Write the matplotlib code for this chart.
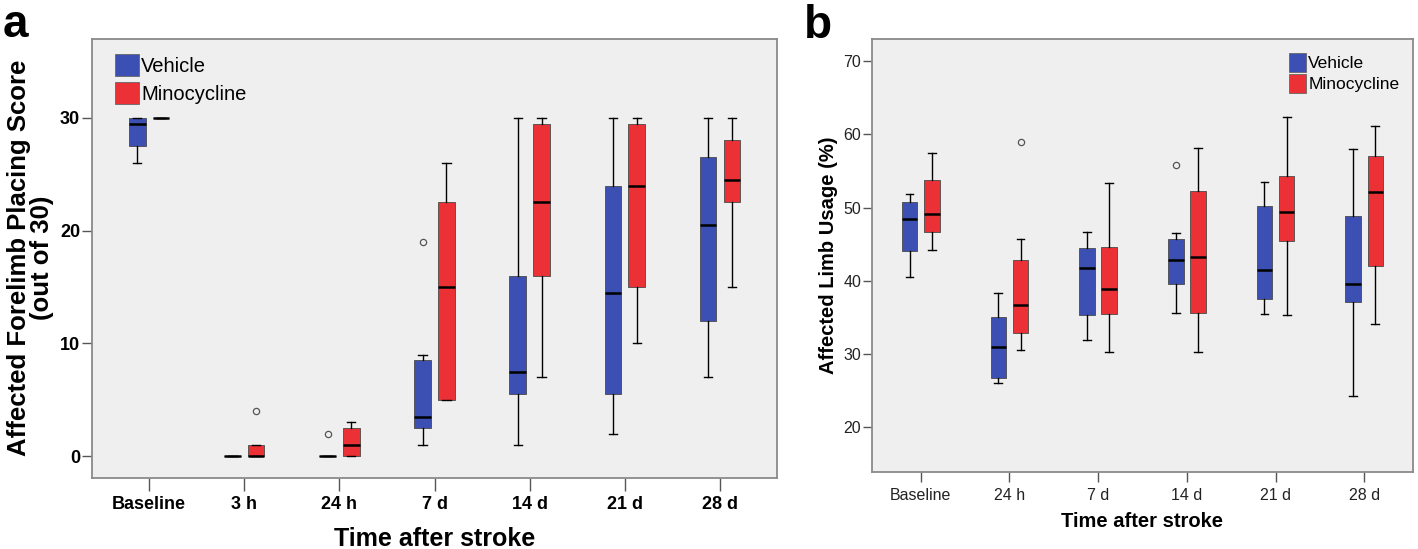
import matplotlib
matplotlib.use("Agg")
import matplotlib.pyplot as plt
import matplotlib.patches as mpatches
import numpy as np

plt.rcParams['font.family'] = ['Liberation Sans', 'DejaVu Sans']

# ---- panel a: forelimb placing score (box stats) ----
times_a = ["Baseline", "3 h", "24 h", "7 d", "14 d", "21 d", "28 d"]

veh_a_lo = [26, 0, 0, 1, 1, 2, 7]
veh_a_q1 = [27.5, 0, 0, 2.5, 5.5, 5.5, 12]
veh_a_med = [29.5, 0, 0, 3.5, 7.5, 14.5, 20.5]
veh_a_q3 = [30, 0, 0, 8.5, 16, 24, 26.5]
veh_a_hi = [30, 0, 0, 9, 30, 30, 30]
veh_a_out = [[], [], [2], [19], [], [], []]

min_a_lo = [30, 0, 0, 5, 7, 10, 15]
min_a_q1 = [30, 0, 0, 5, 16, 15, 22.5]
min_a_med = [30, 0, 1, 15, 22.5, 24, 24.5]
min_a_q3 = [30, 1, 2.5, 22.5, 29.5, 29.5, 28]
min_a_hi = [30, 1, 3, 26, 30, 30, 30]
min_a_out = [[], [4], [], [], [], [], []]

# ---- panel b: affected limb usage (%) ----
times_b = ["Baseline", "24 h", "7 d", "14 d", "21 d", "28 d"]

veh_b_lo = [40.5, 26.0, 31.9, 35.6, 35.4, 24.2]
veh_b_q1 = [44.0, 26.7, 35.3, 39.5, 37.5, 37.1]
veh_b_med = [48.5, 31.0, 41.8, 42.9, 41.5, 39.5]
veh_b_q3 = [50.8, 35.1, 44.5, 45.7, 50.2, 48.9]
veh_b_hi = [51.9, 38.3, 46.6, 46.5, 53.5, 58.0]
veh_b_out = [[], [], [], [55.8], [], []]

min_b_lo = [44.2, 30.6, 30.3, 30.3, 35.3, 34.1]
min_b_q1 = [46.7, 32.8, 35.5, 35.6, 45.4, 42.0]
min_b_med = [49.1, 36.7, 38.9, 43.3, 49.4, 52.1]
min_b_q3 = [53.8, 42.8, 44.6, 52.3, 54.3, 57.0]
min_b_hi = [57.4, 45.7, 53.4, 58.1, 62.4, 61.1]
min_b_out = [[], [59.0], [], [], [], []]

BLUE = '#3C4FB2'
RED = '#EC3136'
BG = '#EFEFEF'
FRAME = '#8A8A8A'


def make_stats(lo, q1, med, q3, hi, out):
    return [dict(whislo=a, q1=b, med=c, q3=d, whishi=e, fliers=f)
            for a, b, c, d, e, f in zip(lo, q1, med, q3, hi, out)]


def draw_group(ax, stats, pos, color):
    ax.bxp(stats, positions=pos, widths=0.175, patch_artist=True,
           showfliers=True, manage_ticks=False,
           boxprops=dict(facecolor=color, edgecolor='#4A4A4A', linewidth=0.6),
           medianprops=dict(color='black', linewidth=1.8),
           whiskerprops=dict(color='black', linewidth=1.0),
           capprops=dict(color='black', linewidth=1.0),
           flierprops=dict(marker='o', markersize=4.5, markerfacecolor='none',
                           markeredgecolor='#555555', markeredgewidth=0.9))


def style_axes(ax):
    ax.set_facecolor(BG)
    for s in ax.spines.values():
        s.set_color(FRAME)
        s.set_linewidth(1.3)


fig = plt.figure(figsize=(14.18, 5.49), dpi=100)

# panel a
ax1 = fig.add_axes([0.0649, 0.130, 0.4831, 0.799])
style_axes(ax1)
xa = np.arange(len(times_a))
draw_group(ax1, make_stats(veh_a_lo, veh_a_q1, veh_a_med, veh_a_q3, veh_a_hi, veh_a_out), xa - 0.125, BLUE)
draw_group(ax1, make_stats(min_a_lo, min_a_q1, min_a_med, min_a_q3, min_a_hi, min_a_out), xa + 0.125, RED)
ax1.set_xlim(-0.6, 6.6)
ax1.set_ylim(-1.9, 37)
ax1.set_xticks(xa)
ax1.set_xticklabels(times_a, fontsize=13, fontweight='bold')
ax1.set_yticks([0, 10, 20, 30])
ax1.set_yticklabels(['0', '10', '20', '30'], fontsize=13, fontweight='bold')
ax1.tick_params(axis='x', length=9, width=1.0, color='#555555', pad=4)
ax1.tick_params(axis='y', length=7.5, width=1.0, color='#555555', pad=1)
ax1.set_ylabel("Affected Forelimb Placing Score\n(out of 30)", fontsize=18.5, fontweight='bold',
               linespacing=0.95)
ax1.yaxis.set_label_coords(-0.056, 0.5)
ax1.set_xlabel("Time after stroke", fontsize=18, fontweight='bold')
ax1.xaxis.set_label_coords(0.5, -0.112)
hand = [mpatches.Patch(facecolor=BLUE, edgecolor='#666666', linewidth=0.6, label='Vehicle'),
        mpatches.Patch(facecolor=RED, edgecolor='#666666', linewidth=0.6, label='Minocycline')]
ax1.legend(handles=hand, loc='upper left', bbox_to_anchor=(0.033, 0.966), frameon=False,
           fontsize=14.5, handlelength=1.2, handleheight=1.35, handletextpad=0.12,
           labelspacing=0.25, borderpad=0, borderaxespad=0)

# panel b
ax2 = fig.add_axes([0.6147, 0.1408, 0.3820, 0.7882])
style_axes(ax2)
xb = np.arange(len(times_b))
draw_group(ax2, make_stats(veh_b_lo, veh_b_q1, veh_b_med, veh_b_q3, veh_b_hi, veh_b_out), xb - 0.125, BLUE)
draw_group(ax2, make_stats(min_b_lo, min_b_q1, min_b_med, min_b_q3, min_b_hi, min_b_out), xb + 0.125, RED)
ax2.set_xlim(-0.553, 5.553)
ax2.set_ylim(13.9, 73.05)
ax2.set_xticks(xb)
ax2.set_xticklabels(times_b, fontsize=11.5, color='#222222')
ax2.set_yticks([20, 30, 40, 50, 60, 70])
ax2.set_yticklabels(['20', '30', '40', '50', '60', '70'], fontsize=11.5, color='#222222')
ax2.tick_params(axis='x', length=7, width=1.0, color='#555555', pad=5)
ax2.tick_params(axis='y', length=6.5, width=1.0, color='#555555', pad=1)
ax2.set_ylabel("Affected Limb Usage (%)", fontsize=14.5, fontweight='bold')
ax2.yaxis.set_label_coords(-0.062, 0.5)
ax2.set_xlabel("Time after stroke", fontsize=14.5, fontweight='bold')
ax2.xaxis.set_label_coords(0.5, -0.093)
ax2.legend(handles=hand, loc='upper left', bbox_to_anchor=(0.77, 0.968), frameon=False,
           fontsize=12.5, handlelength=1.0, handleheight=1.3, handletextpad=0.12,
           labelspacing=0.12, borderpad=0, borderaxespad=0)

fig.text(0.002, 1 - 37 / 549, 'a', fontsize=33, fontweight='bold', va='baseline')
fig.text(0.567, 1 - 38 / 549, 'b', fontsize=33, fontweight='bold', va='baseline')

fig.savefig('out.png', dpi=100, facecolor='white')
